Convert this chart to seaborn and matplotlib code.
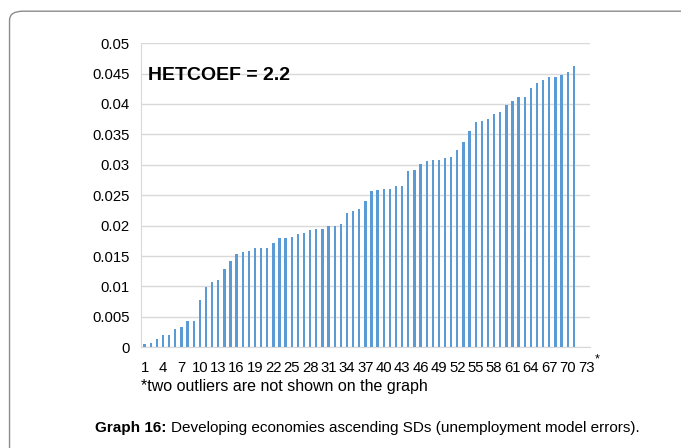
import numpy as np
import pandas as pd
import matplotlib
matplotlib.use("Agg")
import matplotlib.pyplot as plt
from matplotlib.patches import FancyBboxPatch
import seaborn as sns

# ---------------------------------------------------------------------------
# Data: ascending SDs, 73 economies (last two are outliers, not shown)
economy = list(range(1, 74))
sd_values = [
    0.0005, 0.0007, 0.0013, 0.0021, 0.0021, 0.0030, 0.0034, 0.0044, 0.0044, 0.0078,
    0.0099, 0.0107, 0.0111, 0.0128, 0.0142, 0.0153, 0.0156, 0.0159, 0.0163, 0.0163,
    0.0163, 0.0171, 0.0179, 0.0179, 0.0182, 0.0186, 0.0188, 0.0193, 0.0194, 0.0194,
    0.0200, 0.0200, 0.0202, 0.0221, 0.0224, 0.0228, 0.0240, 0.0257, 0.0259, 0.0261,
    0.0261, 0.0265, 0.0265, 0.0290, 0.0292, 0.0301, 0.0307, 0.0308, 0.0308, 0.0311,
    0.0313, 0.0325, 0.0338, 0.0355, 0.0370, 0.0372, 0.0376, 0.0384, 0.0387, 0.0399,
    0.0405, 0.0411, 0.0411, 0.0426, 0.0434, 0.0439, 0.0445, 0.0445, 0.0447, 0.0453,
    0.0462, np.nan, np.nan,
]
y_ticks = [0, 0.005, 0.01, 0.015, 0.02, 0.025, 0.03, 0.035, 0.04, 0.045, 0.05]
y_ticklabels = ["0", "0.005", "0.01", "0.015", "0.02", "0.025", "0.03",
                "0.035", "0.04", "0.045", "0.05"]
# ---------------------------------------------------------------------------

df = pd.DataFrame({"economy": economy, "sd": sd_values})

plt.rcParams["font.family"] = ["Liberation Sans", "DejaVu Sans"]
fig = plt.figure(figsize=(6.81, 4.48), dpi=100)

# rounded frame around the figure
frame = FancyBboxPatch((0.014, -0.05), 1.1, 1.025,
                       boxstyle="round,pad=0,rounding_size=0.02",
                       transform=fig.transFigure, facecolor="none",
                       edgecolor="#8c8c8c", linewidth=1.0)
fig.patches.append(frame)

ax = fig.add_axes([0.207, 0.2248, 0.659, 0.679])
sns.barplot(data=df, x="economy", y="sd", order=economy, color="#5B9BD5",
            width=0.38, saturation=1, ax=ax, errorbar=None)

ax.set_ylim(0, 0.05)
ax.set_xlim(-0.6, len(economy) - 0.4)
ax.set_yticks(y_ticks)
ax.set_yticklabels(y_ticklabels, fontsize=10.7)
ax.set_xticks(range(0, len(economy), 3))
ax.set_xticklabels([str(e) for e in economy[::3]], fontsize=10.7)
ax.tick_params(length=0, pad=8)
ax.tick_params(axis="x", pad=10)
ax.set_xlabel("")
ax.set_ylabel("")
ax.yaxis.grid(True, color="#d9d9d9", linewidth=1.0)
ax.set_axisbelow(True)
for s in ["top", "right"]:
    ax.spines[s].set_visible(False)
ax.spines["left"].set_color("#d9d9d9")
ax.spines["bottom"].set_color("#d9d9d9")

ax.text(0.015, 0.895, "HETCOEF = 2.2", transform=ax.transAxes,
        fontsize=14, fontweight="bold", va="center", ha="left")

fig.text(597 / 681, 1 - 359 / 448, "*", fontsize=9, ha="center", va="center")
fig.text(141 / 681, 1 - 386 / 448, "*two outliers are not shown on the graph",
         fontsize=11.5, ha="left", va="center")
fig.text(95 / 681, 1 - 428 / 448, "Graph 16:", fontsize=11, fontweight="bold",
         ha="left", va="center")
fig.text(171 / 681, 1 - 428 / 448,
         "Developing economies ascending SDs (unemployment model errors).",
         fontsize=11, ha="left", va="center")

fig.savefig("out.png", dpi=100)
